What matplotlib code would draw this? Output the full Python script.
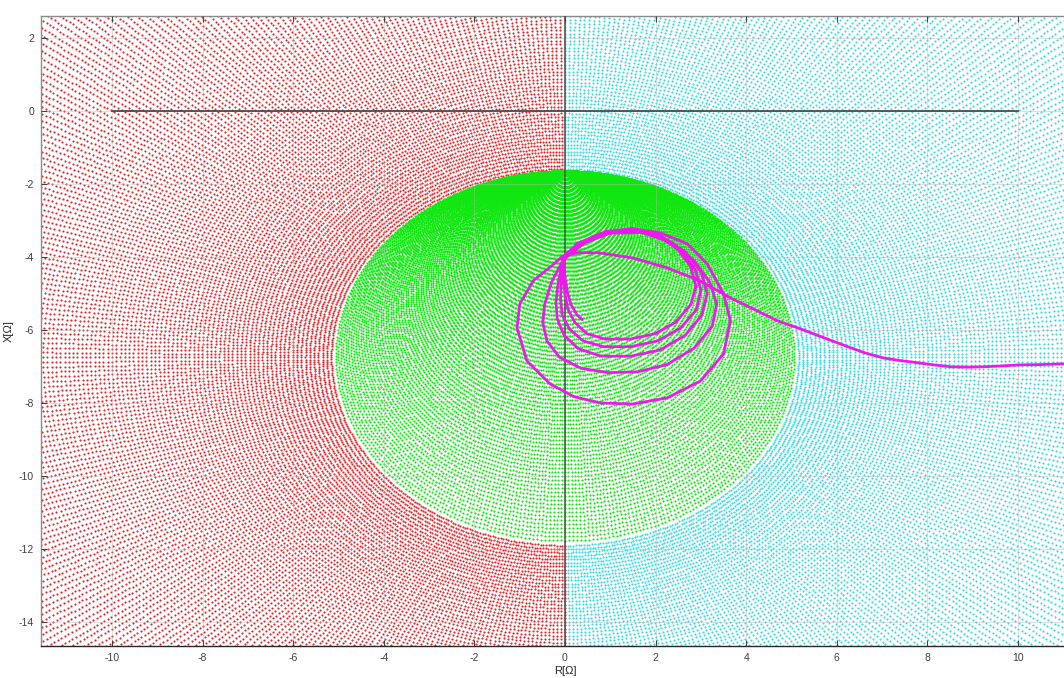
import numpy as np
import matplotlib
matplotlib.use("Agg")
import matplotlib.pyplot as plt

plt.rcParams['font.family'] = ['Liberation Sans', 'DejaVu Sans']
plt.rcParams['axes.unicode_minus'] = False

# ---- relay characteristic (offset mho) and sampling of the R-X plane ----
MHO_TOP = -1.65          # top of the mho circle (offset)
MHO_DIAM = 10.2          # diameter of the mho circle
GRID_DR = 0.095          # radial step of the outer sample grid
GRID_NRAYS = 540         # rays of the outer sample grid
GREEN_DRHO = 0.055       # step of the nested circles inside the characteristic
GREEN_DTHETA_DEG = 1.0

# ---- impedance trajectory ----
traj_R = [11.55, 11.0, 10.5, 10.0, 9.6, 9.25, 8.9, 8.52, 8.15, 7.79, 7.4, 7.04, 6.65, 6.31,
          5.75, 5.2, 4.69, 4.15, 3.65, 2.99, 2.26, 1.50, 0.77, 0.30, -0.05,
          # loop 1
          -0.30, -0.70, -1.00, -1.06, -0.84, -0.33, 0.20, 0.77, 1.50, 2.26, 2.99, 3.50, 3.65,
          3.50, 3.14, 2.70, 2.10, 1.50, 0.77, 0.27, 0.00,
          # loop 2
          -0.05, -0.30, -0.45, -0.49, -0.40, -0.12, 0.35, 0.95, 1.60, 2.25, 2.85, 3.25, 3.35,
          3.20, 2.85, 2.35, 1.70, 1.00, 0.45, 0.05,
          # loop 3
          -0.05, -0.15, -0.20, -0.17, -0.02, 0.30, 0.80, 1.45, 2.10, 2.65, 3.02, 3.14, 3.00,
          2.65, 2.10, 1.50, 0.90, 0.40, 0.05,
          # loop 4
          -0.05, -0.08, -0.10, -0.06, 0.10, 0.40, 0.85, 1.45, 2.05, 2.55, 2.90, 3.00, 2.88,
          2.55, 2.05, 1.50, 0.90, 0.42, 0.05,
          # loop 5
          -0.05, -0.03, 0.00, 0.07, 0.22, 0.48, 0.88, 1.45, 2.00, 2.45, 2.78, 2.89, 2.78,
          2.48, 2.02, 1.48, 0.90, 0.42, 0.05,
          # final part
          -0.03, 0.00, 0.05, 0.13, 0.26, 0.38]
traj_X = [-6.92, -6.93, -6.95, -6.96, -6.99, -7.01, -7.02, -7.01, -6.96, -6.90, -6.84, -6.77, -6.64, -6.49,
          -6.23, -5.97, -5.75, -5.42, -5.12, -4.66, -4.30, -4.03, -3.89, -3.88, -3.98,
          # loop 1
          -4.25, -4.65, -5.29, -5.95, -6.85, -7.48, -7.83, -8.00, -8.03, -7.86, -7.40, -6.66, -5.75,
          -5.01, -4.19, -3.64, -3.34, -3.23, -3.37, -3.64, -3.95,
          # loop 2
          -4.10, -4.70, -5.30, -5.80, -6.30, -6.75, -7.05, -7.17, -7.15, -6.95, -6.50, -5.90, -5.30,
          -4.70, -4.10, -3.60, -3.33, -3.35, -3.60, -3.98,
          # loop 3
          -4.10, -4.70, -5.25, -5.70, -6.15, -6.52, -6.72, -6.72, -6.55, -6.15, -5.60, -5.00, -4.40,
          -3.85, -3.42, -3.28, -3.35, -3.62, -3.98,
          # loop 4
          -4.10, -4.65, -5.15, -5.60, -5.98, -6.30, -6.46, -6.46, -6.30, -5.95, -5.45, -4.90, -4.35,
          -3.82, -3.40, -3.26, -3.33, -3.60, -3.98,
          # loop 5
          -4.10, -4.60, -5.05, -5.45, -5.80, -6.10, -6.25, -6.25, -6.10, -5.78, -5.30, -4.80, -4.27,
          -3.78, -3.38, -3.23, -3.30, -3.58, -3.98,
          # final part
          -4.10, -4.55, -4.95, -5.30, -5.58, -5.72]

# ---- axes reference lines ----
hline_R = [-10, 10]
hline_X = [0, 0]
vline_R = [0, 0]
vline_X = [-16, 4]

xticks = [-10, -8, -6, -4, -2, 0, 2, 4, 6, 8, 10]
yticks = [2, 0, -2, -4, -6, -8, -10, -12, -14]
xlim = (-11.57, 11.57)
ylim = (-14.66, 2.60)

W, H = 1064, 678
fig = plt.figure(figsize=(W / 100, H / 100), dpi=100)
ax = fig.add_axes([41 / W, 32 / H, 1048 / W, 630 / H])

# outer polar sample grid around mho centre
cR, cX = 0.0, MHO_TOP - MHO_DIAM / 2
rm = MHO_DIAM / 2
th = np.linspace(0, 2 * np.pi, GRID_NRAYS, endpoint=False)
rr = np.arange(rm + 0.06, 17.5, GRID_DR)
TH, RR = np.meshgrid(th, rr)
gR = (cR + RR * np.cos(TH)).ravel()
gX = (cX + RR * np.sin(TH)).ravel()
vis = (gR > xlim[0] - 0.2) & (gR < xlim[1] + 0.2) & (gX > ylim[0] - 0.2) & (gX < ylim[1] + 0.2)
gR, gX = gR[vis], gX[vis]
left = gR < 0
ax.scatter(gR[left], gX[left], s=2.4, c='#e3242a', linewidths=0, zorder=1)
ax.scatter(gR[~left], gX[~left], s=2.4, c='#3ed8e0', linewidths=0, zorder=1)

# inside characteristic: nested circles tangent at the top
rhos = np.arange(GREEN_DRHO, rm + 1e-6, GREEN_DRHO)
phis = np.deg2rad(np.arange(0, 360, GREEN_DTHETA_DEG))
P, RH = np.meshgrid(phis, rhos)
iR = (RH * np.cos(P)).ravel()
iX = (MHO_TOP - RH + RH * np.sin(P)).ravel()
ax.scatter(iR, iX, s=2.4, c='#10e610', linewidths=0, zorder=1)

ax.plot(hline_R, hline_X, color='#4a4a4a', lw=1.3, zorder=3)
ax.plot(vline_R, vline_X, color='#4a4a4a', lw=1.1, zorder=3)
ax.plot(traj_R, traj_X, color='#ee18ee', lw=2.0, zorder=4,
        solid_joinstyle='round', solid_capstyle='round')

ax.set_xlim(*xlim)
ax.set_ylim(*ylim)
ax.set_xticks(xticks)
ax.set_yticks(yticks)
ax.set_axisbelow(False)
ax.grid(True, color='#b8b8b8', lw=0.5, alpha=0.6)
ax.tick_params(direction='in', length=4, width=0.8, top=True, right=False,
               labelsize=7.5, colors='#404040', pad=5)
for s in ['left', 'top']:
    ax.spines[s].set_color('#8a8a8a')
    ax.spines[s].set_linewidth(1.0)
ax.spines['bottom'].set_color('#262626')
ax.spines['bottom'].set_linewidth(1.0)
ax.spines['right'].set_visible(False)
ax.set_xlabel('R[Ω]', fontsize=8, color='#262626', labelpad=2.5)
ax.set_ylabel('X[Ω]', fontsize=8, color='#262626', labelpad=4)

fig.savefig('out.png', dpi=100)
